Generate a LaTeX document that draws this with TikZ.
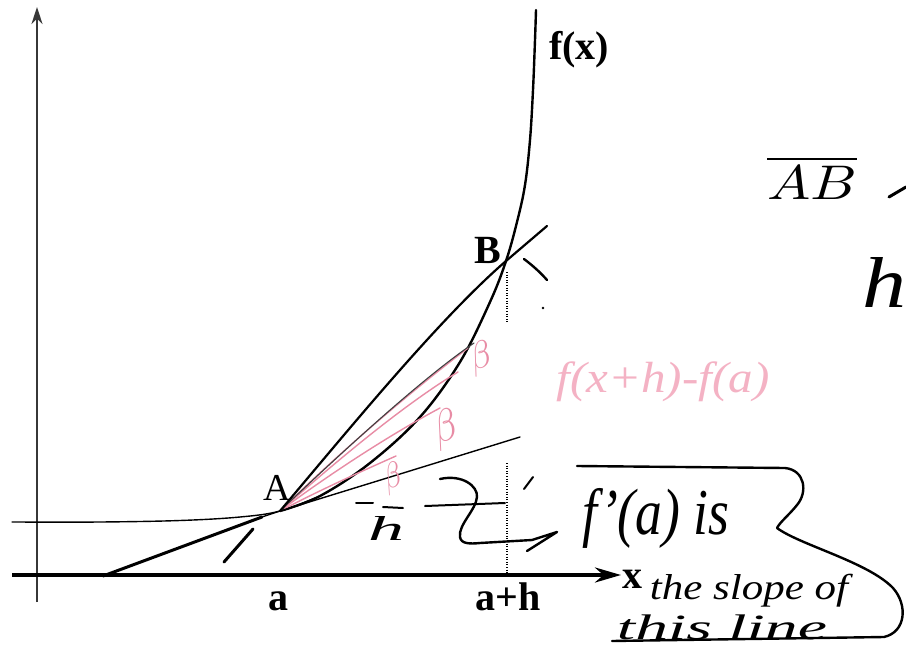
\documentclass[tikz,border=0pt]{standalone}
\usepackage{fontspec}
\setmainfont{Liberation Serif}
\usepackage{graphicx}
\usetikzlibrary{arrows.meta}
\definecolor{pinkline}{RGB}{232,140,165}
\definecolor{pinktext}{RGB}{244,178,196}
\definecolor{axisgray}{RGB}{55,55,55}
\begin{document}
\begin{tikzpicture}[x=1pt,y=-1pt,
  ink/.style={line width=2.4pt, line cap=round, line join=round},
  thinink/.style={line width=1.4pt, line cap=round, line join=round},
  pinkink/.style={line width=1.4pt, pinkline, line cap=round},
  dotline/.style={line width=1.3pt, dash pattern=on 1pt off 1.6pt},
  lbl/.style={inner sep=0pt, font=\fontsize{40}{44}\selectfont\bfseries},
  hand/.style={inner sep=0pt},
  pinkhand/.style={inner sep=0pt, text=pinktext}
]
\fill[white] (0,0) rectangle (906,648);
\useasboundingbox (0,0) rectangle (906,648);

% key points
\coordinate (A) at (280,511);
\coordinate (B) at (506,261);
\coordinate (ytop) at (37,7);
\coordinate (ybot) at (37,602);
\coordinate (xl) at (12,575);
\coordinate (xr) at (621,575);

% axes
\draw[line width=2.2pt, axisgray, -{Stealth[length=17pt,width=11pt]}] (ybot) -- (ytop);
\draw[line width=4pt, -{Stealth[length=26pt,width=15pt]}] (xl) -- (xr);

% dotted verticals at a+h
\draw[dotline] (507,272) -- (507,322);
\draw[dotline] (507,463) -- (507,575);

% curve f
\draw[thinink] plot[smooth, tension=0.6] coordinates {(12,522) (100,522) (180,520.5) (240,517) (280,511) (320,496)};
\draw[ink] plot[smooth, tension=0.6] coordinates {(280,511) (320,496) (370,463) (420,417) (460,362) (490,302) (506,261) (517,222) (525,185) (530,140) (533,90) (535,40) (536,10)};

% pink fan of chords from A
\draw[pinkink] (A) .. controls (340,452) and (410,392) .. (468,348);
\draw[pinkink] (A) .. controls (340,458) and (405,404) .. (458,372);
\draw[pinkink] (A) .. controls (335,470) and (395,432) .. (440,408);
\draw[pinkink] (A) .. controls (320,490) and (360,472) .. (396,456);
\draw[thinink, line width=1.1pt, black!75] (A) .. controls (340,454) and (420,380) .. (474,343);

% secant AB (slightly bowed) extended beyond B
\draw[ink, line width=2.2pt] (A) .. controls (350,428) and (440,318) .. (B) -- (547,226);

% tangent at A
\draw[ink, line width=3pt] (103,576) -- (262,517);
\draw[thinink] (250,521) -- (A) -- (520,437);
\draw[ink, line width=3pt] (224,562) -- (253,529);

% labels (typed)
\node[lbl, anchor=base] (la) at (278,610) {a};
\node[lbl, anchor=base] (lah) at (508,610) {a+h};
\node[lbl, anchor=base west] (lx) at (622,588) {x};
\node[lbl, anchor=base] (lB) at (488,263) {B};
\node[inner sep=0pt, anchor=base, font=\fontsize{38}{42}\selectfont] (lA) at (277,500) {A};
\node[lbl, anchor=base west] (lf) at (549,59) {f(x)};

% handwritten marks near B
\draw[ink] (524,259) .. controls (532,265) and (540,272) .. (547,280);
\fill (543,308) circle (1.3pt);

% pink annotations
\node[pinkhand, text=pinkline, rotate=15] (b1) at (481,358) {\resizebox*{22pt}{34pt}{$\beta$}};
\node[pinkhand, text=pinkline, rotate=15] (b2) at (446,430) {\resizebox*{24pt}{40pt}{$\beta$}};
\node[pinkhand, text=pinkline, rotate=15] (b3) at (393,478) {\resizebox*{18pt}{32pt}{$\beta$}};
\node[pinkhand] (fdiff) at (663,382) {\resizebox*{213pt}{40pt}{\itshape f(x+h)-f(a)}};

% black handwriting around h
\draw[ink, line width=2pt] (356,503) -- (373,503);
\draw[ink, line width=2pt] (383,507) -- (403,508);
\node[hand] (hmid) at (386,528) {\resizebox*{36pt}{24pt}{\itshape h}};
\draw[ink, line width=2pt] (425,506) -- (505,503);
\draw[ink] (440,479) .. controls (462,474) and (478,486) .. (477,497)
  .. controls (476,510) and (458,525) .. (460,537)
  .. controls (461,544) and (470,544) .. (480,543) -- (532,540) -- (557,532) -- (527,551);
\draw[ink, line width=2pt] (533,477) -- (524,489);

% f'(a) is the slope of this line
\node[hand] (fpa) at (656,518) {\resizebox*{147pt}{60pt}{\itshape f\kern0.5pt'(a) is}};
\node[hand] (slope) at (749,591) {\resizebox*{198pt}{33pt}{\itshape the slope of}};
\node[hand] (thisline) at (722,627) {\resizebox*{210pt}{25pt}{\itshape this line}};
\draw[ink] (577,466) -- (785,468) .. controls (805,470) and (808,492) .. (797,505)
  .. controls (790,514) and (780,522) .. (777,528)
  .. controls (800,545) and (868,562) .. (893,588)
  .. controls (908,605) and (906,632) .. (884,637) -- (612,641);

% right margin notes
\node[hand] (ab) at (812,178) {\resizebox*{90pt}{43pt}{$\overline{AB}$}};
\draw[ink, line width=3pt] (889,197) -- (906,187);
\node[hand] (hright) at (884,282) {\resizebox*{44pt}{50pt}{\itshape h}};
\end{tikzpicture}
\end{document}
